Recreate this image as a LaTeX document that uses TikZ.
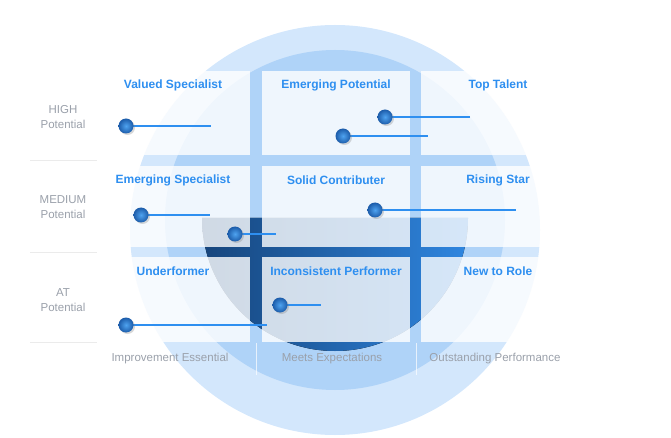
\documentclass[tikz,border=0pt]{standalone}
\usepackage{fontspec}
\setmainfont{Liberation Sans}
\usetikzlibrary{shadows}
\definecolor{titleblue}{HTML}{2E8FF0}
\definecolor{axisgray}{HTML}{9AA0AA}
\definecolor{ringout}{HTML}{D3E7FC}
\definecolor{ringin}{HTML}{AFD3F8}
\definecolor{coreleft}{HTML}{16457C}
\definecolor{coreright}{HTML}{2F86E0}
\definecolor{dotin}{HTML}{4FA3F0}
\definecolor{dotout}{HTML}{1C5CAA}
\tikzset{
  cell/.style={fill=white, fill opacity=0.8, draw=none, inner sep=0pt},
  title/.style={text=titleblue, font=\bfseries\fontsize{12}{14}\selectfont},
  rowlab/.style={text=axisgray, align=center, font=\fontsize{11.5}{15}\selectfont},
  collab/.style={text=axisgray, font=\fontsize{11.5}{14}\selectfont},
  dot/.style={circle, minimum size=15pt, inner sep=0pt, inner color=dotin, outer color=dotout, drop shadow={opacity=0.3, shadow xshift=1.5pt, shadow yshift=-1.5pt}},
  bar/.style={line width=2.4pt, titleblue}
}
\begin{document}
\begin{tikzpicture}[x=1pt, y=-1pt]
  \useasboundingbox (0,0) rectangle (671,438);

  % rings behind the grid
  \fill[ringout] (335,230) circle (205);
  \fill[ringin] (335,220) circle (170);
  \fill[left color=coreleft, right color=coreright]
    (202,218) -- (468,218) arc[start angle=0, end angle=180, radius=133] -- cycle;

  % grid cells
  \foreach \cx/\cw [count=\i] in {97/153, 262/148, 421/154} {
    \foreach \cy/\ch [count=\j] in {71/84, 166/81, 257/85} {
      \fill[cell] (\cx,\cy) rectangle ++(\cw,\ch);
    }
  }

  % cell titles
  \node[title] (vs) at (173,85)  {Valued Specialist};
  \node[title] (ep) at (336,85)  {Emerging Potential};
  \node[title] (tt) at (498,85)  {Top Talent};
  \node[title] (es) at (173,180) {Emerging Specialist};
  \node[title] (sc) at (336,180) {Solid Contributer};
  \node[title] (rs) at (498,180) {Rising Star};
  \node[title] (uf) at (173,271) {Underformer};
  \node[title] (ip) at (336,271) {Inconsistent Performer};
  \node[title] (nr) at (498,271) {New to Role};

  % row labels
  \node[rowlab] (high) at (63,117) {HIGH\\Potential};
  \node[rowlab] (med)  at (63,207) {MEDIUM\\Potential};
  \node[rowlab] (at)   at (63,300) {AT\\Potential};
  \draw[black!8] (30,160) -- (97,160);
  \draw[black!8] (30,252) -- (97,252);
  \draw[black!8] (30,342) -- (97,342);

  % column labels
  \node[collab] (ie) at (170,359) {Improvement Essential};
  \node[collab] (me) at (332,359) {Meets Expectations};
  \node[collab] (op) at (495,359) {Outstanding Performance};
  \draw[white, opacity=0.7] (256,343) -- (256,375);
  \draw[white, opacity=0.7] (416,343) -- (416,375);

  % markers
  \foreach \px/\py/\ex [count=\k] in {126/126/211, 385/117/470, 343/136/428,
      141/215/210, 235/234/276, 375/210/516, 280/305/321, 126/325/267} {
    \coordinate (e\k) at (\ex,\py);
    \coordinate (c\k) at (\px,\py);
    \draw[bar] (c\k) -- (e\k);
    \node[dot] (m\k) at (c\k) {};
  }
\end{tikzpicture}
\end{document}
